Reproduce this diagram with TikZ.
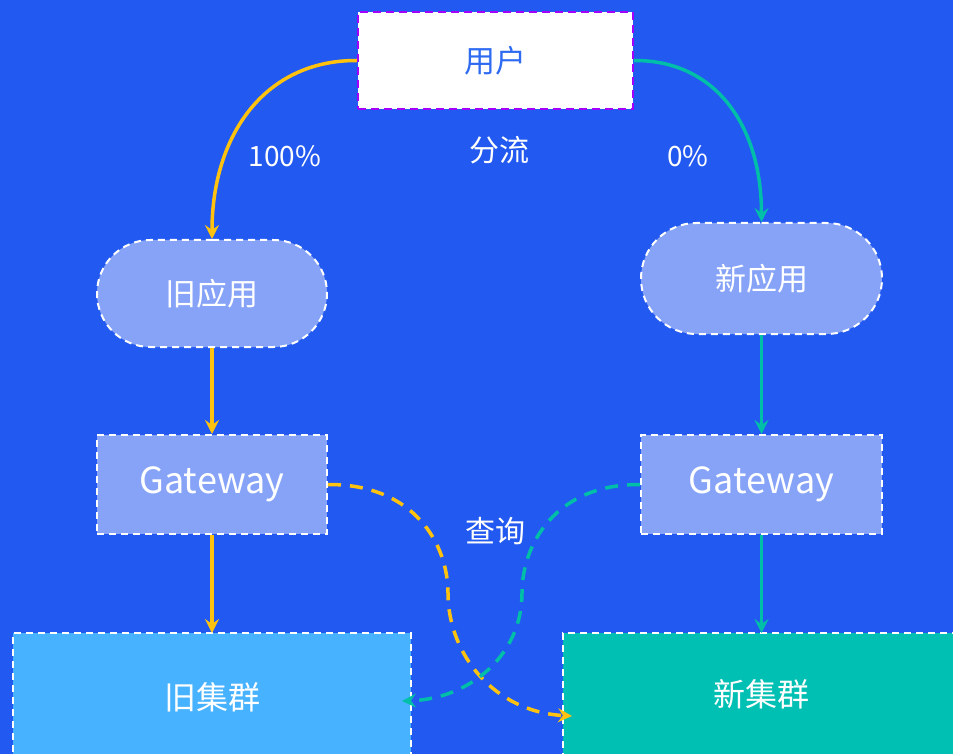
\documentclass[tikz,border=0pt]{standalone}
\usepackage{fontspec}
\setmainfont{Noto Sans CJK SC}[Scale=1]
\usetikzlibrary{arrows.meta,shapes.misc}
\definecolor{bg}{HTML}{2259F0}
\definecolor{appfill}{HTML}{86A3F8}
\definecolor{oldc}{HTML}{47B2FF}
\definecolor{newc}{HTML}{00BFB3}
\definecolor{yel}{HTML}{FFC20E}
\definecolor{tea}{HTML}{00BFA8}
\definecolor{purp}{HTML}{A100FF}
\definecolor{userblue}{HTML}{2F6BF2}
\tikzset{
  box/.style={draw=white, line width=2pt, dash pattern=on 7pt off 5pt, fill=appfill, text=white, inner sep=0pt},
  pill/.style={box, rounded rectangle},
  lbl/.style={text=white, inner sep=0pt},
  ya/.style={draw=yel, line width=3.5pt, -{Stealth[length=14pt,width=14pt,inset=5pt]}},
  ta/.style={draw=tea, line width=3.5pt, -{Stealth[length=14pt,width=14pt,inset=5pt]}},
  yd/.style={ya, dash pattern=on 13pt off 9pt},
  td/.style={ta, dash pattern=on 13pt off 9pt},
}
\begin{document}
\begin{tikzpicture}[x=1pt,y=-1pt]
\useasboundingbox (0,0) rectangle (953,754);
\clip (0,0) rectangle (953,754);
\fill[bg] (0,0) rectangle (953,754);

\node[draw=purp, fill=white, line width=2pt, dash pattern=on 8pt off 5pt, minimum width=275pt, minimum height=97pt, text=userblue, font=\fontsize{31}{36}\selectfont] (user) at (495.5,60.5) {用户};
\node[lbl, font=\fontsize{30}{34}\selectfont] (split) at (499,150) {分流};
\node[lbl, font=\fontsize{28}{32}\selectfont] (p100) at (285,156) {100\%};
\node[lbl, font=\fontsize{28}{32}\selectfont] (p0) at (688,156) {0\%};

\node[pill, minimum width=230pt, minimum height=107pt, font=\fontsize{31}{36}\selectfont] (oldapp) at (212,293.5) {旧应用};
\node[pill, minimum width=241pt, minimum height=111pt, font=\fontsize{31}{36}\selectfont] (newapp) at (761.5,278.5) {新应用};

\node[box, minimum width=230pt, minimum height=99pt, font=\fontsize{36}{40}\selectfont] (gwl) at (212,484.5) {Gateway};
\node[box, minimum width=241pt, minimum height=99pt, font=\fontsize{36}{40}\selectfont] (gwr) at (761.5,484.5) {Gateway};

\node[lbl, font=\fontsize{30}{34}\selectfont] (query) at (495,531) {查询};

\node[box, fill=oldc, minimum width=398pt, minimum height=124pt] (oldcl) at (212,695) {};
\node[lbl, font=\fontsize{32}{36}\selectfont] (oldcltext) at (212,697) {旧集群};
\node[box, fill=newc, minimum width=400pt, minimum height=124pt] (newcl) at (763,695) {};
\node[lbl, font=\fontsize{32}{36}\selectfont] (newcltext) at (761,694) {新集群};

\coordinate (oldtop) at (212,633);
\coordinate (newtop) at (761.5,633);
\coordinate (newin) at (572,716);
\coordinate (oldin) at (402,701);

\draw[ya] (user.west) .. controls (265,60) and (212,135) .. (oldapp.north);
\draw[ta] (user.east) .. controls (715,60) and (761.5,125) .. (newapp.north);
\draw[ya] (oldapp.south) -- (gwl.north);
\draw[ya] (gwl.south) -- (oldtop);
\draw[ta] (newapp.south) -- (gwr.north);
\draw[ta] (gwr.south) -- (newtop);

\draw[yd] (gwl.east) .. controls (415,484) and (448,545) .. (448,593) .. controls (448,655) and (495,712) .. (newin);
\draw[td] (gwr.west) .. controls (555,484) and (522,545) .. (522,593) .. controls (522,655) and (470,699) .. (oldin);
\end{tikzpicture}
\end{document}
